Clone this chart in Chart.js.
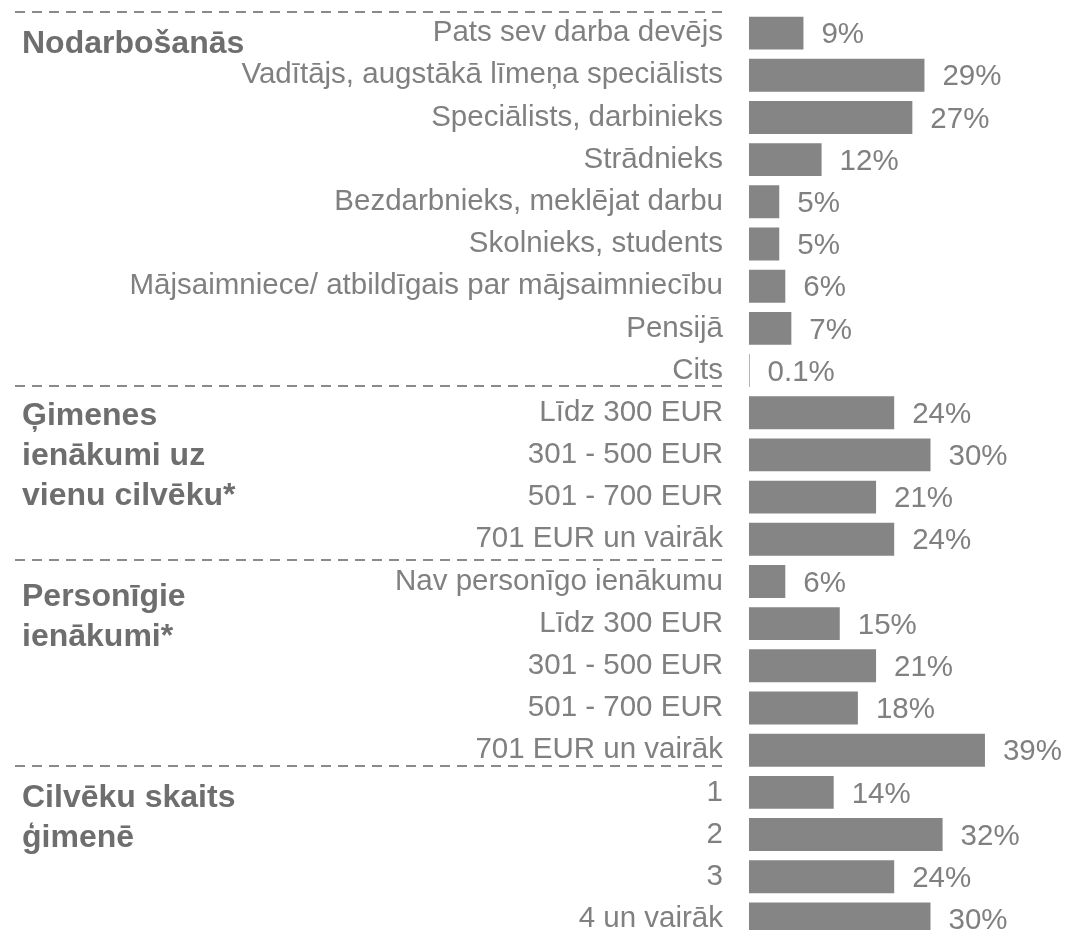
<!DOCTYPE html>
<html>
<head>
<meta charset="utf-8">
<script src="https://cdn.jsdelivr.net/npm/chart.js@4/dist/chart.umd.min.js"></script>
<style>
  html, body { margin: 0; padding: 0; background: #fff; overflow: hidden; }
  #wrap { width: 1068px; height: 930px; overflow: hidden; }
</style>
</head>
<body>
<div id="wrap"><canvas id="chart" width="1068" height="952"></canvas></div>
<script>
// groups of rows, top to bottom
const occupationLabels = ["Pats sev darba devējs", "Vadītājs, augstākā līmeņa speciālists", "Speciālists, darbinieks",
    "Strādnieks", "Bezdarbnieks, meklējat darbu", "Skolnieks, students",
    "Mājsaimniece/ atbildīgais par mājsaimniecību", "Pensijā", "Cits"];
const occupationValues = [9, 29, 27, 12, 5, 5, 6, 7, 0.1];

const familyIncomeLabels = ["Līdz 300 EUR", "301 - 500 EUR", "501 - 700 EUR", "701 EUR un vairāk"];
const familyIncomeValues = [24, 30, 21, 24];

const personalIncomeLabels = ["Nav personīgo ienākumu", "Līdz 300 EUR", "301 - 500 EUR", "501 - 700 EUR", "701 EUR un vairāk"];
const personalIncomeValues = [6, 15, 21, 18, 39];

const householdLabels = ["1", "2", "3", "4 un vairāk"];
const householdValues = [14, 32, 24, 30];

const groupTitles = [
    ["Nodarbošanās"],
    ["Ģimenes", "ienākumi uz", "vienu cilvēku*"],
    ["Personīgie", "ienākumi*"],
    ["Cilvēku skaits", "ģimenē"]
];

const categories = [].concat(occupationLabels, familyIncomeLabels, personalIncomeLabels, householdLabels);
const values = [].concat(occupationValues, familyIncomeValues, personalIncomeValues, householdValues);

const FONT = '"Liberation Sans", Arial, sans-serif';
const TEXT = "#808080";
const BOLD = "#6e6e6e";

// where the dashed rules and the group titles sit, in row units
const ruleRows = [-0.5, 8.37, 12.5, 17.37];
const titleRows = [0.26, 9.08, 13.37, 18.13];

const decorPlugin = {
    id: "decor",
    afterDatasetsDraw(chart) {
        let ctx = chart.ctx;
        let yScale = chart.scales.y;
        let meta = chart.getDatasetMeta(0);

        ctx.save();
        ctx.font = "29.5px " + FONT;
        ctx.fillStyle = TEXT;
        ctx.textAlign = "left";
        ctx.textBaseline = "middle";
        meta.data.forEach((bar, i) => {
            ctx.fillText(values[i] + "%", bar.x + 18, bar.y + 2);
        });

        ctx.setLineDash([10, 7]);
        ctx.lineWidth = 2;
        ctx.strokeStyle = "#8a8a8a";
        ruleRows.forEach(r => {
            let y = Math.round(yScale.getPixelForValue(r));
            ctx.beginPath();
            ctx.moveTo(15, y);
            ctx.lineTo(722, y);
            ctx.stroke();
        });

        ctx.font = "bold 32px " + FONT;
        ctx.fillStyle = BOLD;
        groupTitles.forEach((lines, g) => {
            let y0 = yScale.getPixelForValue(titleRows[g]);
            lines.forEach((line, k) => ctx.fillText(line, 22, y0 + k * 40));
        });
        ctx.restore();
    }
};

new Chart(document.getElementById("chart"), {
    type: "bar",
    data: {
        labels: categories,
        datasets: [{
            data: values,
            backgroundColor: "#858585",
            barPercentage: 0.78,
            categoryPercentage: 1
        }]
    },
    options: {
        indexAxis: "y",
        responsive: false,
        animation: false,
        devicePixelRatio: 1,
        layout: { padding: { left: 0, right: 16.5, top: 12, bottom: 12 } },
        plugins: { legend: { display: false }, tooltip: { enabled: false } },
        scales: {
            x: { display: false, min: 0, max: 50 },
            y: {
                grid: { display: false, drawTicks: false },
                border: { display: false },
                ticks: {
                    autoSkip: false,
                    padding: 26,
                    color: TEXT,
                    font: { family: FONT, size: 29.5 }
                },
                afterFit: scale => {
                    // fixed left column; labels may overflow the ends freely
                    scale.width = 749;
                    scale.paddingTop = 0;
                    scale.paddingBottom = 0;
                }
            }
        }
    },
    plugins: [decorPlugin]
});
</script>
</body>
</html>
